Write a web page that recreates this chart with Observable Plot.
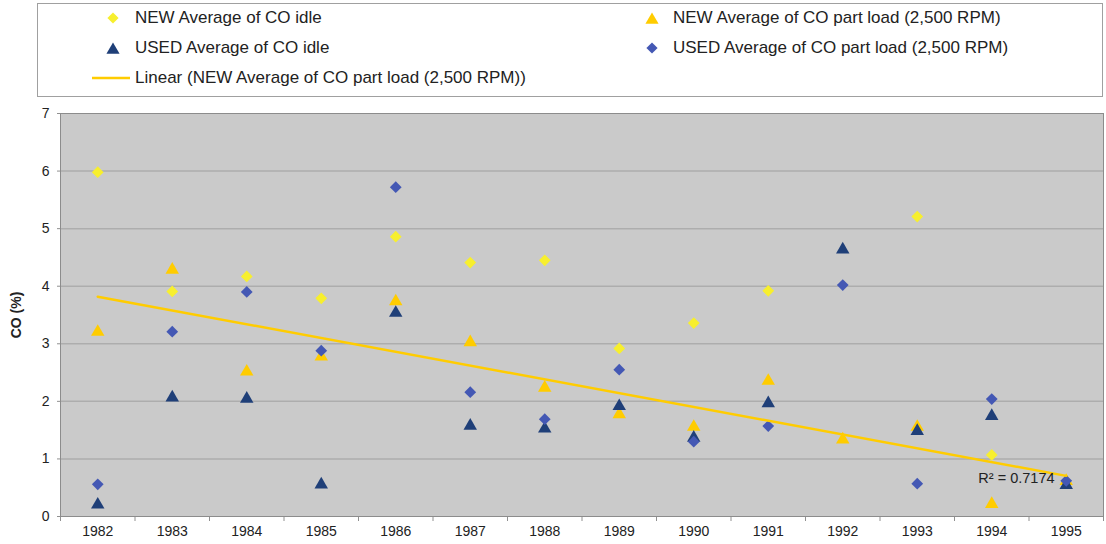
<!DOCTYPE html>
<html>
<head>
<meta charset="utf-8">
<script src="https://cdn.jsdelivr.net/npm/d3@7"></script>
<script src="https://cdn.jsdelivr.net/npm/@observablehq/plot@0.6"></script>
<style>
  body { margin: 0; background: #fff; font-family: "Liberation Sans", Arial, sans-serif; }
  #legend { position: relative; width: 1106px; height: 100px; }
  #legend .box { position: absolute; left: 37px; top: 3px; width: 1066px; height: 94px; border: 1px solid #a0a0a0; box-sizing: border-box; }
  .item { position: absolute; font-size: 17px; color: #222; white-space: nowrap; line-height: 18px; }
  .mk { position: absolute; overflow: visible; }
  #chart svg g[aria-label="y-axis label"] text { font-weight: bold; }
</style>
</head>
<body>
<div id="legend"><div class="box"></div></div>
<div id="chart"></div>
<script>
// ---- data ----
const years    = [1982, 1983, 1984, 1985, 1986, 1987, 1988, 1989, 1990, 1991, 1992, 1993, 1994, 1995];
const newIdle  = [5.98, 3.91, 4.17, 3.79, 4.86, 4.41, 4.45, 2.92, 3.36, 3.92, null, 5.21, 1.07, null];
const newPart  = [3.24, 4.32, 2.55, 2.81, 3.77, 3.06, 2.27, 1.81, 1.59, 2.39, 1.37, 1.59, 0.25, 0.65];
const usedIdle = [0.24, 2.10, 2.08, 0.59, 3.57, 1.61, 1.56, 1.95, 1.40, 2.00, 4.67, 1.52, 1.78, 0.58];
const usedPart = [0.56, 3.21, 3.90, 2.88, 5.72, 2.16, 1.69, 2.55, 1.30, 1.57, 4.02, 0.57, 2.04, 0.62];
const yTicks   = [0, 1, 2, 3, 4, 5, 6, 7];
const seriesNames = [
  "NEW Average of CO idle",
  "NEW Average of CO part load (2,500 RPM)",
  "USED Average of CO idle",
  "USED Average of CO part load (2,500 RPM)",
  "Linear (NEW Average of CO part load (2,500 RPM))"
];
const r2Text = "R\u00B2 = 0.7174";
const yLabel = "CO (%)";

// ---- styles ----
const C_NEW_IDLE = "#F7EF2E";
const C_NEW_PART = "#FFCC00";
const C_USED_IDLE = "#1F3F78";
const C_USED_PART = "#4458B4";
const C_TREND = "#FFCC00";

const rows = years.map((year, i) => ({
  year, newIdle: newIdle[i], newPart: newPart[i], usedIdle: usedIdle[i], usedPart: usedPart[i]
}));
const bounds = [years[0] - 0.5, ...years.map(y => y + 0.5)];

// ---- legend ----
const legend = document.getElementById("legend");
const legendItems = [
  {name: seriesNames[0], kind: "diamond", color: C_NEW_IDLE, left: 135, top: 18, mx: 113},
  {name: seriesNames[1], kind: "triangle", color: C_NEW_PART, left: 673, top: 18, mx: 652},
  {name: seriesNames[2], kind: "triangle", color: C_USED_IDLE, left: 135, top: 48, mx: 113},
  {name: seriesNames[3], kind: "diamond", color: C_USED_PART, left: 673, top: 48, mx: 652},
  {name: seriesNames[4], kind: "line", color: C_TREND, left: 135, top: 78, mx: 111}
];
for (const it of legendItems) {
  const t = document.createElement("div");
  t.className = "item";
  t.style.left = it.left + "px";
  t.style.top = (it.top - 9) + "px";
  t.textContent = it.name;
  legend.appendChild(t);
  const s = d3.create("svg").attr("class", "mk")
    .attr("width", 40).attr("height", 20)
    .style("left", (it.mx - 20) + "px").style("top", (it.top - 10) + "px");
  if (it.kind === "line") {
    s.append("line").attr("x1", 1).attr("x2", 39).attr("y1", 10).attr("y2", 10)
      .attr("stroke", it.color).attr("stroke-width", 2.5);
  } else if (it.kind === "diamond") {
    s.append("path").attr("transform", "translate(20,10)")
      .attr("d", d3.symbol(d3.symbolDiamond2, 80)()).attr("fill", it.color);
  } else {
    s.append("path").attr("transform", "translate(20,12)")
      .attr("d", d3.symbol(d3.symbolTriangle, 75)()).attr("fill", it.color);
  }
  legend.appendChild(s.node());
}

// ---- chart ----
const font = '"Liberation Sans", Arial, sans-serif';
const chart = Plot.plot({
  width: 1106,
  height: 444,
  marginTop: 13,
  marginBottom: 28,
  marginLeft: 60,
  marginRight: 3,
  style: {fontFamily: font, fontSize: "14px", color: "#222", background: "transparent"},
  x: {type: "linear", domain: [bounds[0], bounds[bounds.length - 1]]},
  y: {domain: [0, 7]},
  marks: [
    Plot.frame({fill: "#CACACA"}),
    Plot.gridY(yTicks.slice(1, -1), {stroke: "#ADADAD", strokeOpacity: 1, strokeWidth: 1.5}),
    Plot.axisX(years, {tickSize: 0, tickPadding: 10, tickFormat: d => String(d), label: null}),
    Plot.axisX(bounds, {tickSize: 5, tickFormat: () => "", stroke: "#909090", label: null}),
    Plot.axisY(yTicks, {tickSize: 3, tickPadding: 8, stroke: "#909090", tickFormat: d => String(d),
      label: yLabel, labelAnchor: "center", labelArrow: "none", labelOffset: 49, fontSize: 14}),
    Plot.frame({stroke: "#8C8C8C"}),
    Plot.dot(rows.filter(d => d.newIdle != null), {x: "year", y: "newIdle", symbol: "diamond2", r: 5.3, fill: C_NEW_IDLE, stroke: null}),
    Plot.dot(rows.filter(d => d.newPart != null), {x: "year", y: "newPart", symbol: "triangle", r: 5.0, dy: 2, fill: C_NEW_PART, stroke: null}),
    Plot.dot(rows.filter(d => d.usedIdle != null), {x: "year", y: "usedIdle", symbol: "triangle", r: 5.0, dy: 2, fill: C_USED_IDLE, stroke: null}),
    Plot.dot(rows.filter(d => d.usedPart != null), {x: "year", y: "usedPart", symbol: "diamond2", r: 5.3, fill: C_USED_PART, stroke: null}),
    Plot.linearRegressionY(rows, {x: "year", y: "newPart", ci: 0, stroke: C_TREND, strokeWidth: 2.5}),
    Plot.text([r2Text], {x: () => 1993.82, y: () => 0.67, text: d => d, textAnchor: "start", fill: "#222", fontSize: 14.5})
  ]
});
document.getElementById("chart").appendChild(chart);
</script>
</body>
</html>
